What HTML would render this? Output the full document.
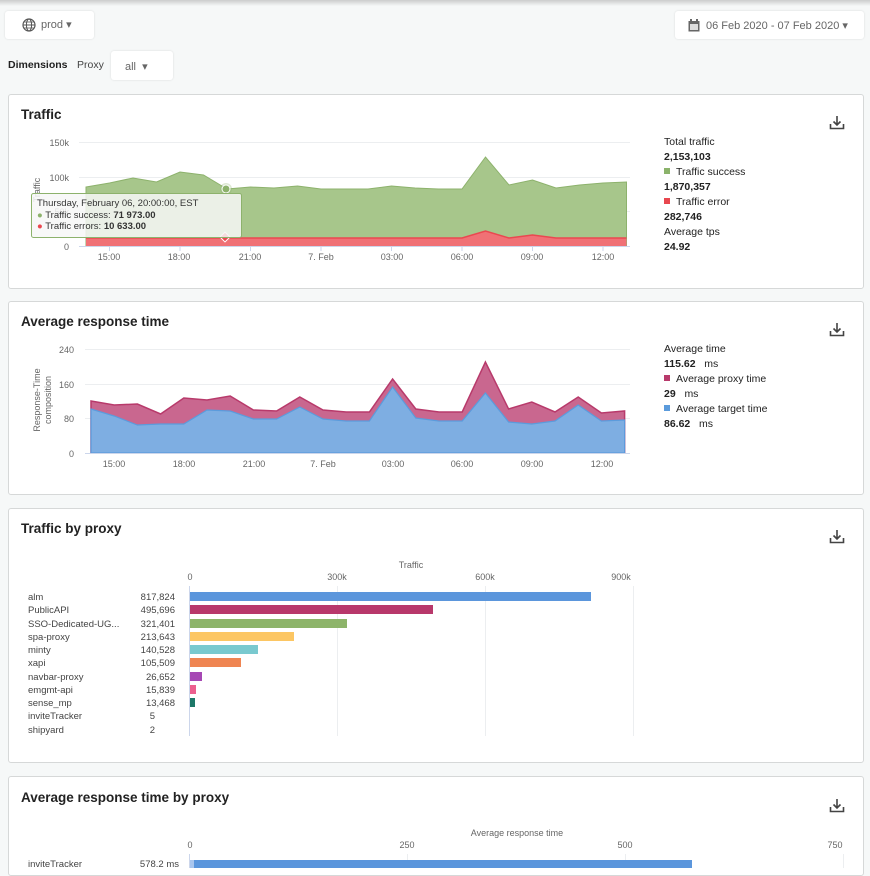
<!DOCTYPE html>
<html><head><meta charset="utf-8"><style>
*{box-sizing:border-box;margin:0;padding:0}
body{width:870px;height:868px;overflow:hidden;background:#f6f8f8;font-family:"Liberation Sans",sans-serif;color:#333;position:relative}
.abs{position:absolute}
.btn{position:absolute;background:#fff;border-radius:3px;box-shadow:0 0 2px rgba(0,0,0,.12);font-size:11px;color:#666}
.panel{position:absolute;left:8px;width:856px;background:#fff;border:1px solid #d6d8d8;border-radius:3px}
.title{position:absolute;left:12px;font-size:13.5px;font-weight:bold;color:#222}
.leg{position:absolute;left:664px;font-size:10.5px;line-height:15px;color:#222}
.leg b{font-weight:bold}
.sq{display:inline-block;width:6px;height:6px;margin:0 6px 1px 0}
svg text{font-family:"Liberation Sans",sans-serif}
</style></head><body>
<div class="abs" style="left:0;top:0;width:870px;height:6px;background:linear-gradient(#ccc,#f6f8f8)"></div>
<div class="btn" style="left:5px;top:11px;width:89px;height:28px"><svg class="abs" style="left:17px;top:7px" width="14" height="14" viewBox="0 0 14 14"><circle cx="7" cy="7" r="6" fill="none" stroke="#555" stroke-width="1.2"/><ellipse cx="7" cy="7" rx="2.6" ry="6" fill="none" stroke="#555" stroke-width="1"/><line x1="1" y1="7" x2="13" y2="7" stroke="#555"/><line x1="2" y1="4" x2="12" y2="4" stroke="#555" stroke-width=".8"/><line x1="2" y1="10" x2="12" y2="10" stroke="#555" stroke-width=".8"/></svg><span class="abs" style="left:36px;top:7px">prod ▾</span></div>
<div class="btn" style="left:675px;top:11px;width:189px;height:28px"><svg class="abs" style="left:13px;top:8px" width="12" height="13"><rect x="0.5" y="2" width="11" height="10.5" fill="#666"/><rect x="2" y="5" width="8" height="6" fill="#ddd"/><rect x="2" y="0" width="2" height="3" fill="#666"/><rect x="8" y="0" width="2" height="3" fill="#666"/></svg><span class="abs" style="left:31px;top:8px">06 Feb 2020 - 07 Feb 2020 ▾</span></div>
<div class="abs" style="left:8px;top:59px;font-size:10.5px;font-weight:bold;color:#222">Dimensions</div>
<div class="abs" style="left:77px;top:59px;font-size:10.5px;color:#444">Proxy</div>
<div class="btn" style="left:111px;top:51px;width:62px;height:29px"><span class="abs" style="left:14px;top:9px">all &nbsp;▾</span></div>

<!-- Panel 1 -->
<div class="panel" style="top:94px;height:195px"></div>
<div class="title" style="left:21px;top:107px">Traffic</div>
<svg class="abs" style="left:829px;top:115px" width="16" height="15" viewBox="0 0 16 15"><path d="M8 1v9M4.5 6.5L8 10l3.5-3.5M1.5 9v4.5h13V9" fill="none" stroke="#444" stroke-width="1.6"/></svg>
<div class="leg" style="top:135px">Total traffic<br><b>2,153,103</b><br><span class="sq" style="background:#8bb36b"></span>Traffic success<br><b>1,870,357</b><br><span class="sq" style="background:#e8474f"></span>Traffic error<br><b>282,746</b><br>Average tps<br><b>24.92</b></div>
<svg class="abs" style="left:0;top:0" width="870" height="290">
<g stroke="#eceef0" stroke-width="1"><line x1="79" y1="142.5" x2="630" y2="142.5"/><line x1="79" y1="177.5" x2="630" y2="177.5"/><line x1="79" y1="211.5" x2="630" y2="211.5"/></g>
<g font-size="9" fill="#666" text-anchor="end"><text x="69" y="146">150k</text><text x="69" y="181">100k</text><text x="69" y="215">50k</text><text x="69" y="250">0</text></g>
<text transform="translate(40,190) rotate(-90)" font-size="9" fill="#666" text-anchor="middle">Traffic</text>
<polygon fill="#a7c68b" stroke="#8db26c" stroke-width="1" points="86,187 109.5,183 133,178 156.5,182 180,172 203.5,175 227,189 250.5,187 274,188 297.5,186 321,189 344.5,189 368,189 391.5,186 415,188 438.5,189 462,189 485.5,157 509,185 532.5,180 556,188 579.5,185 603,183 626.5,182 626.5,246 86,246"/>
<polygon fill="#f07175" points="86,238 462,238 485.5,231 509,238 532.5,235 556,238 626.5,238 626.5,246 86,246"/>
<polyline fill="none" stroke="#ea4850" stroke-width="1.5" points="86,238 462,238 485.5,231 509,238 532.5,235 556,238 626.5,238"/>
<line x1="79" y1="246.5" x2="630" y2="246.5" stroke="#ccd6eb"/>
<g stroke="#ccd6eb"><line x1="109.5" y1="246" x2="109.5" y2="251"/><line x1="180" y1="246" x2="180" y2="251"/><line x1="250.5" y1="246" x2="250.5" y2="251"/><line x1="321" y1="246" x2="321" y2="251"/><line x1="391.5" y1="246" x2="391.5" y2="251"/><line x1="462" y1="246" x2="462" y2="251"/><line x1="532.5" y1="246" x2="532.5" y2="251"/><line x1="603" y1="246" x2="603" y2="251"/></g>
<g font-size="9" fill="#666" text-anchor="middle"><text x="109" y="260">15:00</text><text x="179" y="260">18:00</text><text x="250" y="260">21:00</text><text x="321" y="260">7. Feb</text><text x="392" y="260">03:00</text><text x="462" y="260">06:00</text><text x="532" y="260">09:00</text><text x="603" y="260">12:00</text></g>
<circle cx="226" cy="189" r="6" fill="#8db26c" opacity=".3"/><circle cx="226" cy="189" r="4" fill="#8db26c" stroke="#fff"/>
<rect x="221.5" y="233.5" width="7" height="7" transform="rotate(45 225 237)" fill="#ea4850" stroke="#fff"/>
<rect x="31.5" y="193.5" width="210" height="44" rx="2" fill="rgba(247,247,247,.85)" stroke="#8db26c"/>
<text x="37" y="206" font-size="9.5" fill="#333">Thursday, February 06, 20:00:00, EST</text>
<text x="37" y="218" font-size="9.5" fill="#333"><tspan fill="#8db26c">●</tspan> Traffic success: <tspan font-weight="bold">71 973.00</tspan></text>
<text x="37" y="229" font-size="9.5" fill="#333"><tspan fill="#ea4850">●</tspan> Traffic errors: <tspan font-weight="bold">10 633.00</tspan></text>
</svg>

<!-- Panel 2 -->
<div class="panel" style="top:301px;height:194px"></div>
<div class="title" style="left:21px;top:314px">Average response time</div>
<svg class="abs" style="left:829px;top:322px" width="16" height="15" viewBox="0 0 16 15"><path d="M8 1v9M4.5 6.5L8 10l3.5-3.5M1.5 9v4.5h13V9" fill="none" stroke="#444" stroke-width="1.6"/></svg>
<div class="leg" style="top:342px">Average time<br><b>115.62</b> &nbsp; ms<br><span class="sq" style="background:#b83a6b"></span>Average proxy time<br><b>29</b> &nbsp; ms<br><span class="sq" style="background:#5b9bdc"></span>Average target time<br><b>86.62</b> &nbsp; ms</div>
<svg class="abs" style="left:0;top:300px" width="870" height="195">
<g transform="translate(0,-300)">
<g stroke="#eceef0"><line x1="85" y1="349.5" x2="630" y2="349.5"/><line x1="85" y1="384.5" x2="630" y2="384.5"/><line x1="85" y1="418.5" x2="630" y2="418.5"/></g>
<g font-size="9" fill="#666" text-anchor="end"><text x="74" y="353">240</text><text x="74" y="388">160</text><text x="74" y="422">80</text><text x="74" y="457">0</text></g>
<text transform="translate(40,400) rotate(-90)" font-size="9" fill="#666" text-anchor="middle">Response-Time</text>
<text transform="translate(51,400) rotate(-90)" font-size="9" fill="#666" text-anchor="middle">composition</text>
<polygon fill="#c9678f" stroke="#b83a6b" stroke-width="1.5" points="91,401 114.2,405 137.4,404 160.6,414 183.8,398 207,400 230.2,396 253.4,410 276.6,411 299.8,397 323,410 346.2,412 369.4,412 392.6,379 415.8,409 439,412 462.2,412 485.4,362 508.6,409 531.8,402 555,412 578.2,397 601.4,413 624.6,411 624.6,453 91,453"/>
<polygon fill="#7eaee2" stroke="#5b9bdc" stroke-width="1.2" points="91,409 114.2,416 137.4,425 160.6,424 183.8,424 207,410 230.2,411 253.4,419 276.6,419 299.8,407 323,419 346.2,421 369.4,421 392.6,387 415.8,418 439,421 462.2,421 485.4,393 508.6,422 531.8,424 555,421 578.2,405 601.4,421 624.6,420 624.6,453 91,453"/>
<line x1="85" y1="453.5" x2="630" y2="453.5" stroke="#ccd6eb"/>
<g font-size="9" fill="#666" text-anchor="middle"><text x="114" y="467">15:00</text><text x="184" y="467">18:00</text><text x="254" y="467">21:00</text><text x="323" y="467">7. Feb</text><text x="393" y="467">03:00</text><text x="462" y="467">06:00</text><text x="532" y="467">09:00</text><text x="602" y="467">12:00</text></g>
</g></svg>

<!-- Panel 3 -->
<div class="panel" style="top:508px;height:255px"></div>
<div class="title" style="left:21px;top:521px">Traffic by proxy</div>
<svg class="abs" style="left:829px;top:529px" width="16" height="15" viewBox="0 0 16 15"><path d="M8 1v9M4.5 6.5L8 10l3.5-3.5M1.5 9v4.5h13V9" fill="none" stroke="#444" stroke-width="1.6"/></svg>
<svg class="abs" style="left:0;top:0" width="870" height="868">
<text x="411" y="568" font-size="9" fill="#666" text-anchor="middle">Traffic</text>
<g font-size="9" fill="#666" text-anchor="middle"><text x="190" y="580">0</text><text x="337" y="580">300k</text><text x="485" y="580">600k</text><text x="621" y="580">900k</text></g>
<g stroke="#eceef0"><line x1="337.5" y1="586" x2="337.5" y2="736"/><line x1="485.5" y1="586" x2="485.5" y2="736"/><line x1="633.5" y1="586" x2="633.5" y2="736"/></g>
<line x1="189.5" y1="586" x2="189.5" y2="736" stroke="#ccd6eb"/>
<g font-size="9.5" fill="#444">
<text x="28" y="600">alm</text><text x="28" y="613">PublicAPI</text><text x="28" y="627">SSO-Dedicated-UG...</text><text x="28" y="640">spa-proxy</text><text x="28" y="653">minty</text><text x="28" y="666">xapi</text><text x="28" y="680">navbar-proxy</text><text x="28" y="693">emgmt-api</text><text x="28" y="706">sense_mp</text><text x="28" y="719">inviteTracker</text><text x="28" y="733">shipyard</text>
</g>
<g font-size="9.5" fill="#444" text-anchor="end">
<text x="175" y="600">817,824</text><text x="175" y="613">495,696</text><text x="175" y="627">321,401</text><text x="175" y="640">213,643</text><text x="175" y="653">140,528</text><text x="175" y="666">105,509</text><text x="175" y="680">26,652</text><text x="175" y="693">15,839</text><text x="175" y="706">13,468</text><text x="155" y="719">5</text><text x="155" y="733">2</text>
</g>
<g>
<rect x="190" y="592" width="401" height="9" fill="#5b96dc"/>
<rect x="190" y="605" width="243" height="9" fill="#b8386b"/>
<rect x="190" y="619" width="157" height="9" fill="#8db46a"/>
<rect x="190" y="632" width="104" height="9" fill="#fcc663"/>
<rect x="190" y="645" width="68" height="9" fill="#79c9cf"/>
<rect x="190" y="658" width="51" height="9" fill="#ef8552"/>
<rect x="190" y="672" width="12" height="9" fill="#a647b4"/>
<rect x="190" y="685" width="6" height="9" fill="#ec5f8e"/>
<rect x="190" y="698" width="5" height="9" fill="#1d7868"/>
</g>
</svg>

<!-- Panel 4 -->
<div class="panel" style="top:776px;height:100px"></div>
<div class="title" style="left:21px;top:790px">Average response time by proxy</div>
<svg class="abs" style="left:829px;top:798px" width="16" height="15" viewBox="0 0 16 15"><path d="M8 1v9M4.5 6.5L8 10l3.5-3.5M1.5 9v4.5h13V9" fill="none" stroke="#444" stroke-width="1.6"/></svg>
<svg class="abs" style="left:0;top:820px" width="870" height="48">
<g transform="translate(0,-820)">
<text x="517" y="836" font-size="9" fill="#666" text-anchor="middle">Average response time</text>
<g font-size="9" fill="#666" text-anchor="middle"><text x="190" y="848">0</text><text x="407" y="848">250</text><text x="625" y="848">500</text><text x="835" y="848">750</text></g>
<g stroke="#eceef0"><line x1="407.5" y1="854" x2="407.5" y2="868"/><line x1="625.5" y1="854" x2="625.5" y2="868"/><line x1="843.5" y1="854" x2="843.5" y2="868"/></g>
<line x1="189.5" y1="854" x2="189.5" y2="868" stroke="#ccd6eb"/>
<rect x="190" y="860" width="4" height="10" fill="#a9c6ee"/>
<rect x="194" y="860" width="498" height="10" fill="#5b96dc"/>
<text x="28" y="867" font-size="9.5" fill="#444">inviteTracker</text>
<text x="179" y="867" font-size="9.5" fill="#444" text-anchor="end">578.2 ms</text>
</g></svg>
</body></html>
